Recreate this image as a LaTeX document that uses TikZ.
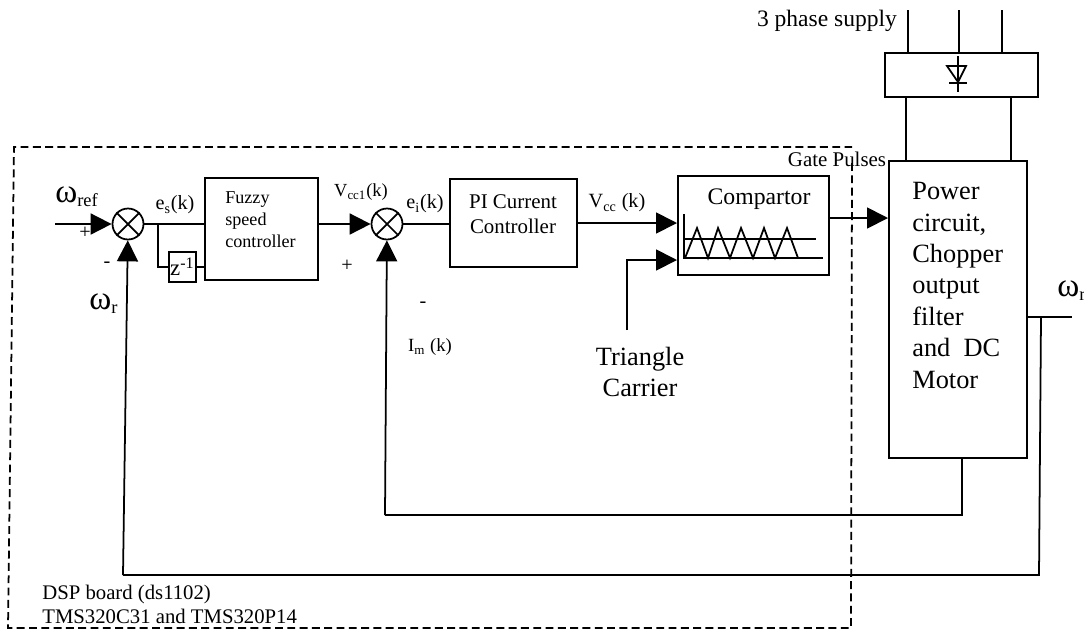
\documentclass[tikz,border=0pt]{standalone}
\usepackage{fontspec}
\setmainfont{Liberation Serif}
\usetikzlibrary{arrows.meta}
\newcommand{\wsym}{{\fontsize{19}{20}\selectfont ω}}
\tikzset{
blockbox/.style={draw,line width=1pt,anchor=north west,inner sep=0pt},
sumnode/.style={circle,draw,line width=1pt,minimum size=0.62cm,inner sep=0pt},
sig/.style={-{Triangle[length=0.42cm,width=0.42cm]},line width=1pt},
wire/.style={line width=1pt},
txt/.style={font=\fontsize{11.5}{13.5}\selectfont,inner sep=0pt},
big/.style={font=\fontsize{15}{17.9}\selectfont,inner sep=0pt,align=center}
}
\begin{document}
\begin{tikzpicture}[x=0.02cm,y=-0.02cm]
\useasboundingbox (0,0) rectangle (1084,630);
\draw[wire,dash pattern=on 4.5pt off 2.5pt] (852,163) -- (851,628) -- (8,628) -- (14,147) -- (852,147);
% blocks
\node[blockbox,minimum width=2.26cm,minimum height=2.04cm] (fuzzy) at (204,177) {};
\node[blockbox,minimum width=0.54cm,minimum height=0.6cm,font=\fontsize{13}{15}\selectfont] (delay) at (168,251) {z\textsuperscript{-1}};
\node[blockbox,minimum width=2.54cm,minimum height=1.76cm] (pi) at (449,178) {};
\node[blockbox,minimum width=3.02cm,minimum height=1.98cm] (comp) at (677,175) {};
\node[blockbox,minimum width=2.76cm,minimum height=5.94cm] (power) at (888,160) {};
\node[blockbox,minimum width=3.06cm,minimum height=0.88cm] (rect) at (884,52) {};
\node[sumnode] (s1) at (128,224) {};
\node[sumnode] (s2) at (387,224) {};
\foreach \n in {s1,s2}
{
\draw[wire] (\n.north west) -- (\n.south east);
\draw[wire] (\n.north east) -- (\n.south west);
}
% texts
\node[txt,font=\fontsize{10.3}{12.5}\selectfont,align=left,anchor=north west] (fuzzytxt) at (225,191) {Fuzzy\\speed\\controller};
\node[txt,font=\fontsize{11.9}{14.2}\selectfont,align=center] (pitxt) at (513,214) {PI Current\\Controller};
\node[txt,font=\fontsize{13.5}{16}\selectfont] (comptxt) at (759,199) {Compartor};
\node[big,align=left,anchor=north west] (powertxt) at (912,182) {Power\\circuit,\\Chopper\\output\\filter\\and~~DC\\Motor};
\node[txt,font=\fontsize{11.9}{14}\selectfont] (gate) at (837,159) {Gate Pulses};
\node[txt,font=\fontsize{13.4}{16}\selectfont] (supply) at (827,21) {3 phase supply};
\node[big,anchor=west] (wref) at (55,197) {\wsym\textsubscript{ref}};
\node[big,anchor=west] (wr1) at (89,304) {\wsym\textsubscript{r}};
\node[big,anchor=west] (wr2) at (1057,291) {\wsym\textsubscript{r}};
\node[txt] (es) at (175,205) {e\textsubscript{s}(k)};
\node[txt,font=\fontsize{10.5}{12}\selectfont] (vcc1) at (361,192) {V\textsubscript{cc1}(k)};
\node[txt] (ei) at (425,204) {e\textsubscript{i}(k)};
\node[txt] (vcc) at (617,203) {V\textsubscript{cc} (k)};
\node[txt,font=\fontsize{10.6}{12}\selectfont] (im) at (430,347) {I\textsubscript{m} (k)};
\node[big] (tri) at (640,372) {Triangle\\Carrier};
\node[txt,font=\fontsize{11.8}{13.6}\selectfont,align=left,anchor=north west] (dsp) at (42,585) {DSP board (ds1102)\\TMS320C31 and TMS320P14};
\node[txt] (p1) at (85,233) {+};
\node[txt] (m1) at (107,265) {-};
\node[txt] (p2) at (347,266) {+};
\node[txt] (m2) at (423,305) {-};
% forward path
\coordinate (in) at (55,224);
\draw[sig] (in) -- (s1);
\draw[wire] (s1) -- (fuzzy.west |- s1);
\draw[wire] (158,224) |- (delay.west);
\draw[wire] (delay.east) -- (fuzzy.west |- delay);
\draw[sig] (fuzzy.east |- s2) -- (s2);
\draw[wire] (s2) -- (pi.west |- s2);
\draw[sig] (pi.east |- 0,223) -- (comp.west |- 0,223);
\coordinate (carrier) at (627,330);
\draw[sig] (carrier) |- (comp.west |- 0,260);
\draw[sig] (comp.east |- 0,218) -- (power.west |- 0,218);
% supply
\foreach \x in {908,959,1002}
{
\coordinate (sup\x) at (\x,10);
\draw[wire] (sup\x) -- (sup\x |- rect.north);
}
\draw[wire] (rect.south -| 906,0) -- (power.north -| 906,0);
\draw[wire] (rect.south -| 1011,0) -- (power.north -| 1011,0);
\draw[wire] (947,66) -- (966,66) -- (958,82) -- cycle;
\draw[wire] (958,56) -- (958,92);
\draw[wire] (949,83) -- (967,83);
% triangle wave
\draw[wire] (684,214) -- (684,258) -- (823,258);
\draw[wire] (684,239) -- (816,239);
\draw[wire] (685,258) -- (697,228) -- (708,258) -- (718,228) -- (730,258) -- (741,228) -- (753,258) -- (764,228) -- (775,258) -- (787,228) -- (798,258);
% feedback
\coordinate (fb1) at (962,515);
\coordinate (fb1l) at (385,515);
\draw[wire] (power.south -| fb1) -- (fb1) -- (fb1l);
\draw[sig] (fb1l) -- (s2);
\coordinate (wout) at (1072,317);
\coordinate (fb2) at (1039,575);
\coordinate (fb2l) at (123,575);
\draw[wire] (power.east |- wout) -- (wout);
\draw[wire] (1041,317) -- (fb2) -- (fb2l);
\draw[sig] (fb2l) -- (s1);
\end{tikzpicture}
\end{document}
